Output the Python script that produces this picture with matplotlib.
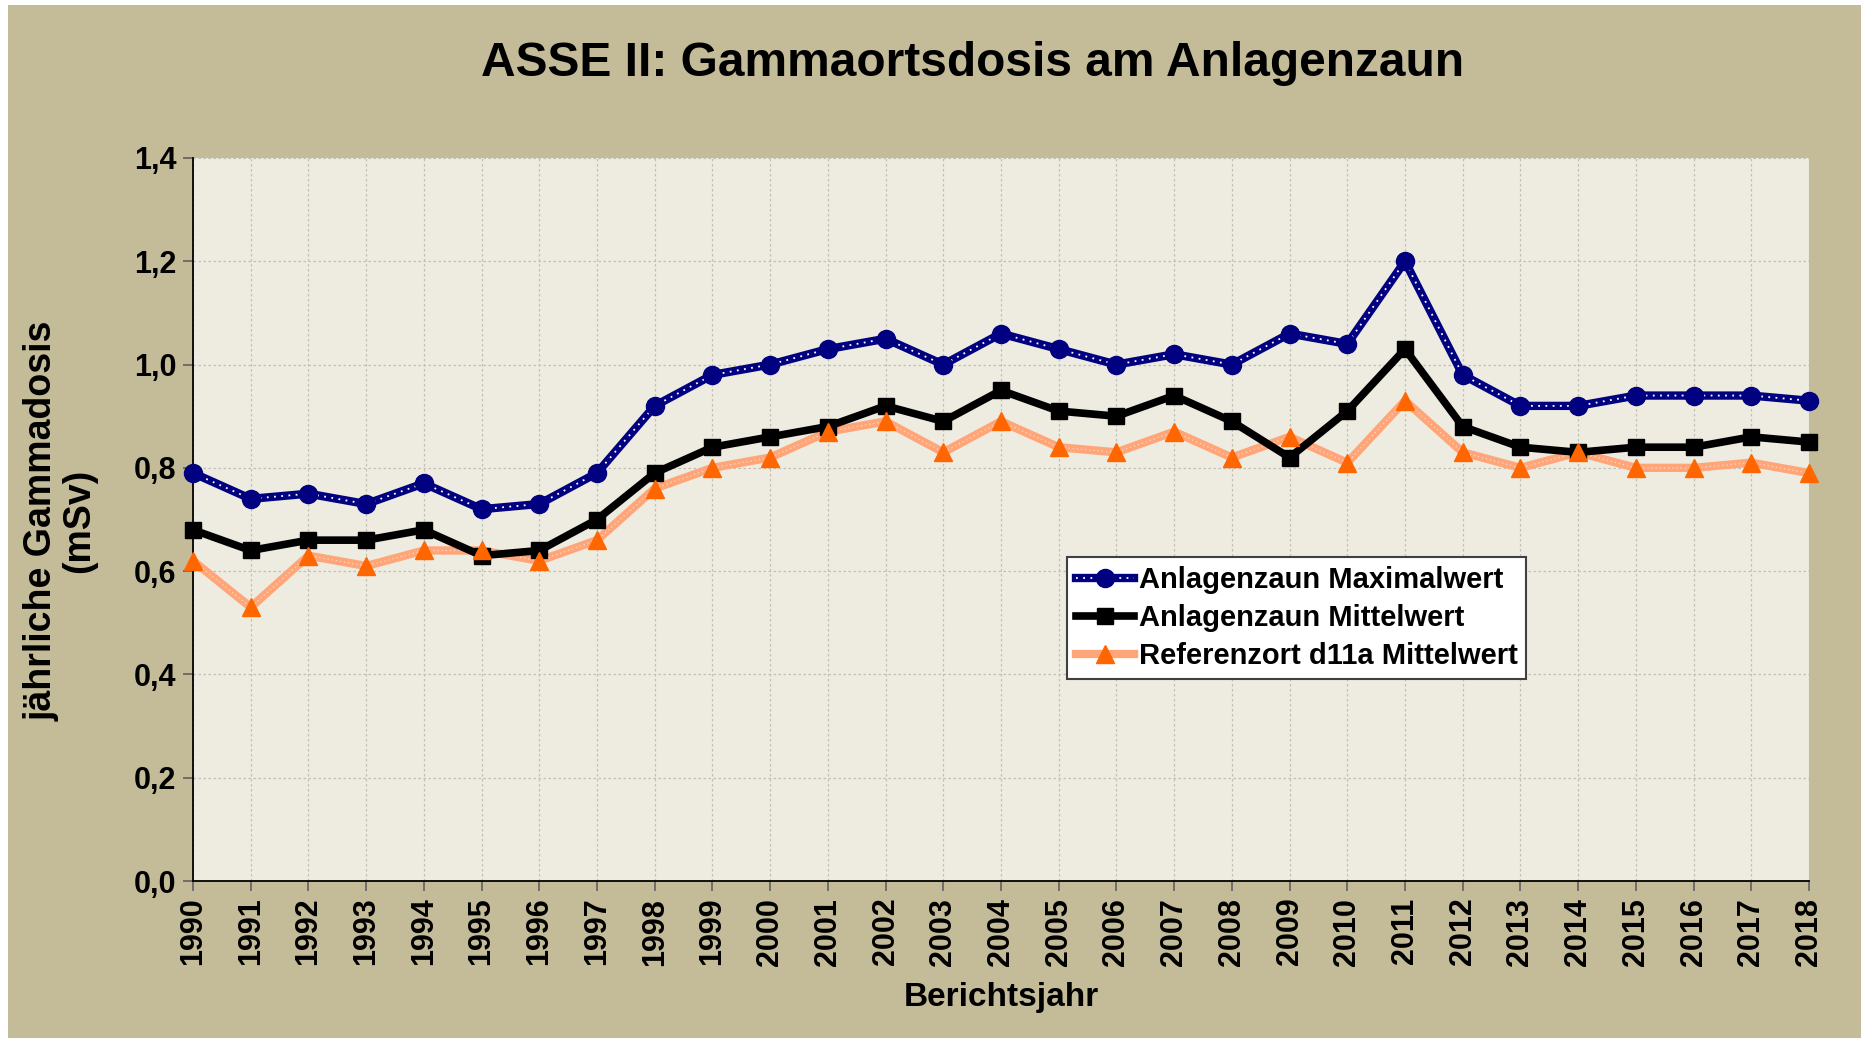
import matplotlib
matplotlib.use("Agg")
import matplotlib.pyplot as plt
from matplotlib.patches import Rectangle
from matplotlib.lines import Line2D
from matplotlib.ticker import FuncFormatter

plt.rcParams["font.family"] = ["Liberation Sans", "DejaVu Sans"]
plt.rcParams["font.weight"] = "bold"

# Data
years = list(range(1990, 2019))
max_fence = [0.79, 0.74, 0.75, 0.73, 0.77, 0.72, 0.73, 0.79, 0.92, 0.98,
             1.00, 1.03, 1.05, 1.00, 1.06, 1.03, 1.00, 1.02, 1.00, 1.06,
             1.04, 1.20, 0.98, 0.92, 0.92, 0.94, 0.94, 0.94, 0.93]
mean_fence = [0.68, 0.64, 0.66, 0.66, 0.68, 0.63, 0.64, 0.70, 0.79, 0.84,
              0.86, 0.88, 0.92, 0.89, 0.95, 0.91, 0.90, 0.94, 0.89, 0.82,
              0.91, 1.03, 0.88, 0.84, 0.83, 0.84, 0.84, 0.86, 0.85]
ref_d11a = [0.62, 0.53, 0.63, 0.61, 0.64, 0.64, 0.62, 0.66, 0.76, 0.80,
            0.82, 0.87, 0.89, 0.83, 0.89, 0.84, 0.83, 0.87, 0.82, 0.86,
            0.81, 0.93, 0.83, 0.80, 0.83, 0.80, 0.80, 0.81, 0.79]
labels = ["Anlagenzaun Maximalwert", "Anlagenzaun Mittelwert",
          "Referenzort d11a Mittelwert"]
yticks = [0.0, 0.2, 0.4, 0.6, 0.8, 1.0, 1.2, 1.4]

W, H = 1867, 1038
tan = "#C4BC98"
plot_bg = "#EEEBE0"
navy = "#000080"
orange = "#FF6600"
orange_line = "#FFA578"

fig = plt.figure(figsize=(W / 100, H / 100), dpi=100, facecolor="white")
# tan panel with thin white margin
fig.patches.append(Rectangle((8 / W, 0), (1861 - 8) / W, 1 - 5 / H,
                             transform=fig.transFigure, facecolor=tan,
                             edgecolor="none", zorder=-10))

ax = fig.add_axes([193 / W, 1 - 881 / H, (1809 - 193) / W, (881 - 158) / H])
ax.set_facecolor(plot_bg)

# orange reference line
ax.plot(years, ref_d11a, color=orange_line, lw=6, zorder=3, clip_on=False)
ax.plot(years, ref_d11a, color="white", lw=1, ls=(0, (1, 2)), alpha=0.5,
        zorder=3.2, clip_on=False)
ax.plot(years, ref_d11a, ls="none", marker="^", ms=13, color=orange,
        zorder=6, clip_on=False)
# black mean line
ax.plot(years, mean_fence, color="black", lw=5.5, marker="s", ms=12,
        zorder=4, clip_on=False)
# navy max line with white dotted pattern, solid markers on top
ax.plot(years, max_fence, color=navy, lw=6, zorder=5, clip_on=False)
ax.plot(years, max_fence, color="white", lw=1.3, ls=(0, (1, 3)),
        zorder=5.2, clip_on=False)
ax.plot(years, max_fence, ls="none", color=navy, marker="o", ms=13,
        zorder=5.5, clip_on=False)

ax.set_xlim(1990, 2018)
ax.set_ylim(0, 1.4)
ax.set_xticks(years)
ax.set_xticklabels([str(y) for y in years], rotation=90)
ax.set_yticks(yticks)
ax.yaxis.set_major_formatter(FuncFormatter(lambda v, p: f"{v:.1f}".replace(".", ",")))
ax.tick_params(axis="both", labelsize=22, length=7, width=1.2,
               color="#606060", pad=5)

ax.grid(True, color="#C2BFB5", lw=0.9, ls=(0, (2, 2)))
ax.set_axisbelow(True)
for side in ["top", "right"]:
    ax.spines[side].set_visible(False)
for side in ["left", "bottom"]:
    ax.spines[side].set_color("black")
    ax.spines[side].set_linewidth(1.3)

# title and axis labels
fig.text(973 / W, 1 - 76 / H, "ASSE II: Gammaortsdosis am Anlagenzaun",
         ha="center", va="baseline", fontsize=34.5, fontweight="bold")
fig.text(1001 / W, 1 - 1006 / H, "Berichtsjahr", ha="center",
         va="baseline", fontsize=24, fontweight="bold")
fig.text(60 / W, 1 - 521 / H, "jährliche Gammadosis\n(mSv)", ha="center",
         va="center", rotation=90, fontsize=27, fontweight="bold",
         multialignment="center", linespacing=1.05)

# legend
h_max = (Line2D([], [], color=navy, lw=6),
         Line2D([], [], color="white", lw=1.3, ls=(0, (1, 3))),
         Line2D([], [], ls="none", color=navy, marker="o", ms=13))
h_mean = Line2D([], [], color="black", lw=5.5, marker="s", ms=12)
h_ref = (Line2D([], [], color=orange_line, lw=6),
         Line2D([], [], ls="none", color=orange, marker="^", ms=13))
leg = ax.legend([h_max, h_mean, h_ref], labels, loc="upper left",
                bbox_to_anchor=(0.541, 0.448), borderaxespad=0,
                fontsize=21, frameon=True, fancybox=False,
                handlelength=2.0, handletextpad=0.15, labelspacing=0.35,
                borderpad=0.3, framealpha=1)
leg.get_frame().set_edgecolor("#404040")
leg.get_frame().set_linewidth(1.5)
leg.set_zorder(10)

fig.savefig("out.png", dpi=100, facecolor=fig.get_facecolor())
